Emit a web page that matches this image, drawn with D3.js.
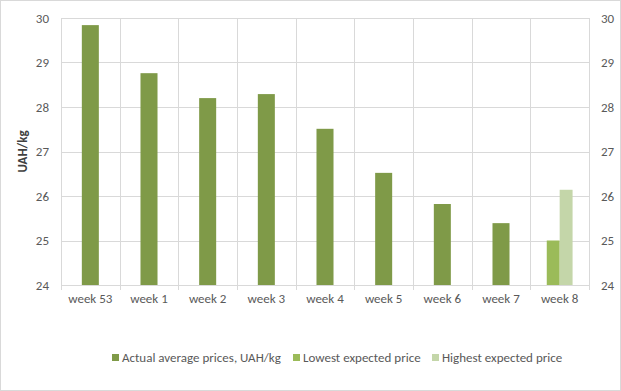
<!DOCTYPE html>
<html><head><meta charset="utf-8">
<script src="https://cdn.jsdelivr.net/npm/d3@7"></script>
<style>body{margin:0;background:#fff;font-family:Calibri,Carlito,"Liberation Sans",Arial,sans-serif}</style>
</head><body><svg id="c" width="621" height="391"></svg>
<script>
const categories = ["week 53","week 1","week 2","week 3","week 4","week 5","week 6","week 7","week 8"];
const actual = [29.84, 28.76, 28.20, 28.29, 27.51, 26.52, 25.82, 25.39, null];
const lowest = [null,null,null,null,null,null,null,null,25.0];
const highest = [null,null,null,null,null,null,null,null,26.14];
const yTicks = [24,25,26,27,28,29,30];
const seriesNames = ["Actual average prices, UAH/kg","Lowest expected price","Highest expected price"];
const colors = ["#7f9a48","#9bbb59","#c4d6a9"];

const svg = d3.select("#c");
const m = {l:61, r:589, t:18, b:285};
svg.append("rect").attr("x",0.5).attr("y",0.5).attr("width",620).attr("height",390).attr("fill","#fff").attr("stroke","#d9d9d9");
const x = d3.scaleBand().domain(categories).range([m.l,m.r]);
const y = d3.scaleLinear().domain([24,30]).range([m.b,m.t]);
const font = "Calibri, Carlito, 'Liberation Sans', Arial, sans-serif";

svg.append("g").selectAll("line").data(yTicks).join("line")
  .attr("x1",m.l).attr("x2",m.r).attr("y1",d=>Math.round(y(d))+0.5).attr("y2",d=>Math.round(y(d))+0.5)
  .attr("stroke","#d9d9d9");
const bounds = categories.map(c=>x(c)).concat([m.r]);
svg.append("g").selectAll("line").data(bounds).join("line")
  .attr("x1",d=>Math.round(d)+0.5).attr("x2",d=>Math.round(d)+0.5).attr("y1",m.t).attr("y2",m.b+5)
  .attr("stroke","#d9d9d9");

const bw = x.bandwidth();
const aw = bw*0.29;
svg.append("g").selectAll("rect").data(categories.map((c,i)=>({c,v:actual[i]})).filter(d=>d.v!=null)).join("rect")
  .attr("x",d=>x(d.c)+bw/2-aw/2).attr("width",aw)
  .attr("y",d=>y(d.v)).attr("height",d=>y(24)-y(d.v)).attr("fill",colors[0]);
const ew = bw*0.22;
svg.append("g").selectAll("rect").data(categories.map((c,i)=>({c,v:lowest[i]})).filter(d=>d.v!=null)).join("rect")
  .attr("x",d=>x(d.c)+bw/2-ew).attr("width",ew)
  .attr("y",d=>y(d.v)).attr("height",d=>y(24)-y(d.v)).attr("fill",colors[1]);
svg.append("g").selectAll("rect").data(categories.map((c,i)=>({c,v:highest[i]})).filter(d=>d.v!=null)).join("rect")
  .attr("x",d=>x(d.c)+bw/2).attr("width",ew)
  .attr("y",d=>y(d.v)).attr("height",d=>y(24)-y(d.v)).attr("fill",colors[2]);

const lab = svg.append("g").attr("font-family",font).attr("font-size",13).attr("fill","#595959");
lab.selectAll("text.l").data(yTicks).join("text").attr("class","l")
  .attr("x",49).attr("y",d=>y(d)+4.5).attr("text-anchor","end").text(d=>d);
lab.selectAll("text.r").data(yTicks).join("text").attr("class","r")
  .attr("x",601).attr("y",d=>y(d)+4.5).attr("text-anchor","start").text(d=>d);
lab.selectAll("text.x").data(categories).join("text").attr("class","x")
  .attr("x",d=>x(d)+bw/2).attr("y",303).attr("text-anchor","middle").text(d=>d);
svg.append("text").attr("transform",`translate(27,${(m.t+m.b)/2}) rotate(-90)`)
  .attr("text-anchor","middle").attr("font-family",font).attr("font-size",13).attr("font-weight","bold")
  .attr("fill","#404040").text("UAH/kg");

const lx = [112,293,432];
const lg = svg.append("g").attr("font-family",font).attr("font-size",13).attr("fill","#595959");
seriesNames.forEach((s,i)=>{
  lg.append("rect").attr("x",lx[i]).attr("y",354).attr("width",7).attr("height",7).attr("fill",colors[i]);
  lg.append("text").attr("x",lx[i]+10).attr("y",362).text(s);
});
</script></body></html>
